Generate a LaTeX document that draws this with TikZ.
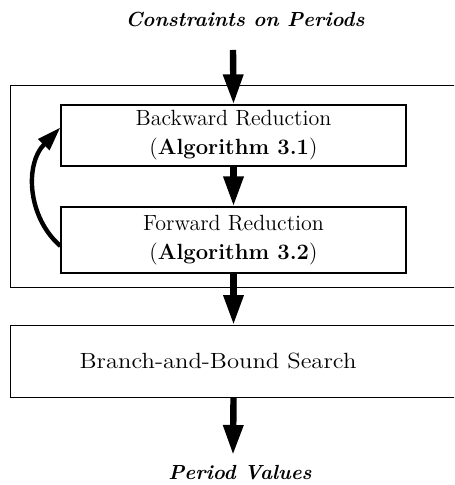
\documentclass[tikz,border=0pt]{standalone}
\usetikzlibrary{arrows.meta}
\begin{document}
\begin{tikzpicture}[x=0.5pt,y=-0.5pt,
  box/.style={draw,line width=0.6pt,inner sep=0pt,align=center,font=\fontsize{11}{14.5}\selectfont},
  bigarrow/.style={line width=3.2pt,-{Triangle[width=9.5pt,length=15pt]}},
  loop/.style={line width=2.2pt,-{Triangle[width=7.5pt,length=12pt]}},
  label/.style={font=\fontsize{10.2}{12}\selectfont\bfseries\itshape}]
\useasboundingbox (0,0) rectangle (454,485);
\clip (0,0) rectangle (454,485);
\node[label] (in) at (245,20) {Constraints on Periods};
\coordinate (top) at (233,50);
\node[draw,line width=0.6pt,anchor=north west,minimum width=240pt,minimum height=101pt,inner sep=0pt] (outer) at (10,85) {};
\node[box,minimum width=172.5pt,minimum height=30.5pt] (b1) at (233.5,135.5) {Backward Reduction\\(\textbf{Algorithm 3.1})};
\node[box,minimum width=172.5pt,minimum height=33pt] (b2) at (233.5,240) {Forward Reduction\\(\textbf{Algorithm 3.2})};
\node[box,anchor=north west,minimum width=240pt,minimum height=36pt] (br) at (10,325) {};
\node[font=\fontsize{11}{13}\selectfont] (brt) at (218,361) {\scalebox{1.12}[1]{Branch-and-Bound Search}};
\coordinate (bot) at (233,455);
\node[label] (out) at (240,473) {Period Values};
\draw[bigarrow] (top) -- (b1.north);
\draw[bigarrow] (b1.south) -- (b2.north);
\draw[bigarrow] (b2.south) -- (br.north -| b2.south);
\draw[bigarrow] (br.south -| b2.south) -- (bot);
\draw[loop] ([yshift=-3pt]b2.west) .. controls (28,218) and (24,165) .. ([yshift=4pt]b1.west);
\end{tikzpicture}
\end{document}
